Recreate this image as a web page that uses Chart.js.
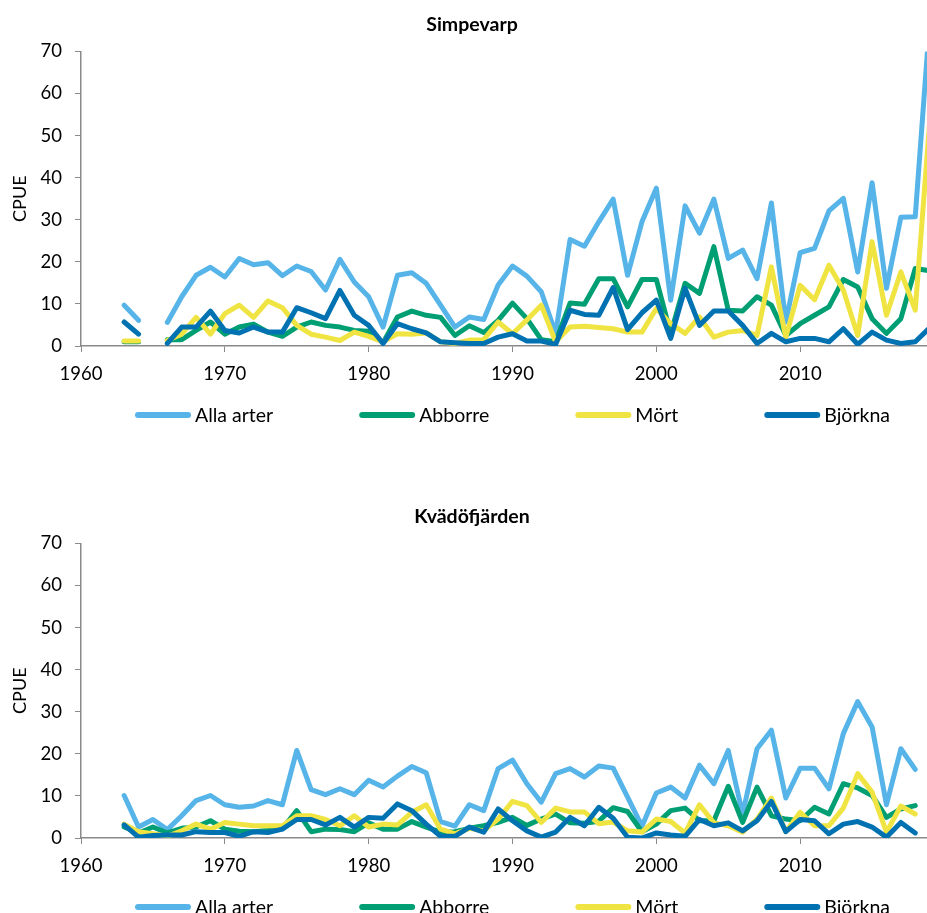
<!DOCTYPE html>
<html>
<head>
<meta charset="utf-8">
<script src="https://cdn.jsdelivr.net/npm/chart.js@4.4.1/dist/chart.umd.min.js"></script>
<style>
  html, body { margin: 0; padding: 0; background: #fff; overflow: hidden; width: 927px; height: 913px; }
  .panel { position: absolute; left: 0; width: 958px; height: 493px; }
</style>
</head>
<body>
<div class="panel" style="top:0"><canvas id="chartTop" width="958" height="493"></canvas></div>
<div class="panel" style="top:492px"><canvas id="chartBottom" width="958" height="493"></canvas></div>
<script>
// CPUE per year, Simpevarp and Kvädöfjärden

const years = [1963, 1964, 1965, 1966, 1967, 1968, 1969,
  1970, 1971, 1972, 1973, 1974, 1975, 1976, 1977, 1978, 1979,
  1980, 1981, 1982, 1983, 1984, 1985, 1986, 1987, 1988, 1989,
  1990, 1991, 1992, 1993, 1994, 1995, 1996, 1997, 1998, 1999,
  2000, 2001, 2002, 2003, 2004, 2005, 2006, 2007, 2008, 2009,
  2010, 2011, 2012, 2013, 2014, 2015, 2016, 2017, 2018, 2019];

const seriesNames = ['Alla arter', 'Abborre', 'Mört', 'Björkna'];
const seriesColors = ['#56B4E9', '#009E73', '#F0E442', '#0072B2'];
const xTickYears = [1960, 1970, 1980, 1990, 2000, 2010];
const yTicks = [0, 10, 20, 30, 40, 50, 60, 70];

// Simpevarp
const simAlla = [9.7, 6.1, null, 5.6, 11.7, 16.8, 18.7,
  16.4, 20.8, 19.3, 19.8, 16.7, 19.0, 17.7, 13.3, 20.6, 15.2,
  11.7, 4.5, 16.8, 17.4, 14.9, 9.7, 4.5, 6.9, 6.3, 14.5,
  19.0, 16.6, 12.9, 3.0, 25.3, 23.7, 29.5, 34.9, 16.8, 29.5,
  37.5, 10.9, 33.3, 26.8, 34.9, 20.8, 22.8, 16.0, 34.0, 5.7,
  22.2, 23.2, 32.1, 35.1, 17.6, 38.8, 13.7, 30.6, 30.7, 77];
const simAbborre = [1.0, 1.0, null, 1.5, 1.5, 3.7, 5.7,
  2.8, 4.5, 5.2, 3.3, 2.3, 4.5, 5.7, 4.9, 4.5, 3.7,
  3.5, 0.8, 6.9, 8.3, 7.3, 6.8, 2.5, 4.8, 3.2, 6.1,
  10.2, 6.5, 1.5, 1.0, 10.2, 9.9, 16.0, 16.0, 9.3, 15.8,
  15.8, 3.0, 14.9, 12.5, 23.6, 8.5, 8.3, 11.7, 9.7, 2.5,
  5.3, 7.3, 9.3, 15.8, 14.0, 6.5, 3.0, 6.5, 18.4, 17.9];
const simMort = [1.2, 1.2, null, 1.3, 2.8, 6.8, 2.8,
  7.7, 9.7, 6.8, 10.7, 9.1, 4.9, 2.8, 2.1, 1.3, 3.3,
  2.3, 1.0, 2.9, 2.8, 3.1, 1.0, 0.6, 1.4, 1.5, 5.7,
  2.9, 6.2, 9.7, 1.0, 4.5, 4.7, 4.4, 4.1, 3.3, 3.3,
  8.9, 5.3, 3.0, 6.9, 2.1, 3.3, 3.7, 2.5, 18.8, 2.1,
  14.4, 11.0, 19.2, 13.3, 2.5, 24.8, 7.3, 17.6, 8.5, 53];
const simBjorkna = [5.7, 2.8, null, 0.6, 4.5, 4.5, 8.3,
  3.7, 3.1, 4.5, 3.3, 3.3, 9.1, 7.9, 6.5, 13.2, 7.3,
  4.9, 0.6, 5.3, 4.1, 3.1, 1.0, 0.8, 0.6, 0.6, 2.1,
  2.9, 1.2, 1.2, 0.4, 8.5, 7.5, 7.3, 13.9, 3.9, 7.9,
  10.9, 1.8, 13.7, 4.9, 8.3, 8.3, 4.9, 0.6, 3.0, 1.0,
  1.8, 1.8, 1.0, 4.1, 0.4, 3.3, 1.4, 0.6, 1.0, 4.3];

// Kvädöfjärden
const kvaAlla = [10.1, 2.6, 4.4, 2.0, 5.3, 8.9, 10.1,
  7.9, 7.3, 7.6, 8.9, 7.9, 20.8, 11.5, 10.3, 11.7, 10.3,
  13.7, 12.1, 14.7, 17.0, 15.5, 3.9, 2.8, 7.9, 6.5, 16.5,
  18.5, 12.9, 8.5, 15.3, 16.5, 14.5, 17.1, 16.6, 9.7, 2.8,
  10.7, 12.1, 9.5, 17.3, 12.9, 20.8, 5.7, 21.2, 25.6, 9.5,
  16.6, 16.6, 11.7, 24.8, 32.4, 26.4, 7.9, 21.2, 16.3, null];
const kvaAbborre = [2.6, 1.2, 2.6, 1.2, 2.3, 2.6, 4.1,
  2.1, 1.6, 1.5, 1.8, 2.2, 6.5, 1.5, 2.1, 2.0, 1.5,
  3.6, 2.1, 2.1, 3.9, 2.6, 1.4, 1.5, 2.3, 2.9, 3.7,
  4.9, 3.0, 4.5, 5.7, 3.6, 3.5, 4.0, 7.2, 6.3, 1.5,
  3.3, 6.5, 7.1, 4.1, 4.1, 12.3, 3.7, 12.1, 5.3, 4.5,
  4.1, 7.3, 5.7, 12.9, 11.9, 10.1, 4.9, 6.9, 7.7, null];
const kvaMort = [3.3, 1.5, 1.0, 0.4, 1.7, 3.3, 2.1,
  3.7, 3.3, 2.9, 2.9, 2.9, 5.3, 5.3, 4.4, 2.9, 5.3,
  2.6, 3.3, 3.1, 6.1, 7.9, 2.1, 1.0, 2.3, 1.7, 4.5,
  8.7, 7.7, 3.7, 7.1, 6.2, 6.2, 3.4, 3.8, 1.7, 1.4,
  4.5, 3.9, 1.2, 7.9, 3.6, 2.9, 1.4, 4.5, 9.5, 1.5,
  6.1, 2.9, 2.9, 7.1, 15.3, 10.9, 1.4, 7.6, 5.7, null];
const kvaBjorkna = [3.1, 0.2, 0.6, 0.7, 0.7, 1.5, 1.3,
  1.3, 0.4, 1.5, 1.3, 2.1, 4.4, 4.4, 3.1, 4.9, 2.6,
  4.9, 4.7, 8.1, 6.5, 3.3, 0.4, 0.4, 2.6, 1.4, 6.9,
  4.1, 1.7, 0.2, 1.4, 4.9, 2.9, 7.3, 4.7, 0.2, 0.0,
  1.2, 0.7, 0.4, 4.4, 2.9, 3.6, 1.7, 4.1, 8.7, 1.5,
  4.4, 4.1, 1.0, 3.3, 3.9, 2.6, 0.2, 3.7, 1.2, null];

Chart.defaults.font.family = 'Lato, "Open Sans", sans-serif';
Chart.defaults.color = '#000';

// legend drawn as a thick rounded line with the name right after it
const lineLegend = {
  id: 'lineLegend',
  afterDraw(chart) {
    const ctx = chart.ctx;
    const area = chart.chartArea;
    const y = area.bottom + 69;
    const lineLen = 56, textGap = 4, itemGap = 86;
    ctx.save();
    ctx.font = '19.5px ' + Chart.defaults.font.family;
    const items = chart.data.datasets.map(ds => ({
      text: ds.label,
      color: ds.borderColor,
      w: lineLen + textGap + ctx.measureText(ds.label).width
    }));
    const total = items.reduce((s, it) => s + it.w, 0) + itemGap * (items.length - 1);
    let x = (area.left + area.right) / 2 - total / 2;
    items.forEach(it => {
      ctx.strokeStyle = it.color;
      ctx.lineWidth = 6;
      ctx.lineCap = 'round';
      ctx.beginPath();
      ctx.moveTo(x + 3, y);
      ctx.lineTo(x + lineLen - 3, y);
      ctx.stroke();
      ctx.fillStyle = '#000';
      ctx.textBaseline = 'middle';
      ctx.fillText(it.text, x + lineLen + textGap, y + 1);
      x += it.w + itemGap;
    });
    ctx.restore();
  }
};

function makeChart(canvasId, title, values) {
  const datasets = values.map((vals, i) => ({
    label: seriesNames[i],
    data: years.map((yr, j) => ({ x: yr, y: vals[j] })),
    borderColor: seriesColors[i],
    backgroundColor: seriesColors[i],
    borderWidth: 5,
    borderJoinStyle: 'round',
    borderCapStyle: 'round',
    pointRadius: 0,
    tension: 0,
    spanGaps: false,
    order: values.length - i
  }));

  return new Chart(document.getElementById(canvasId), {
    type: 'line',
    data: { datasets: datasets },
    plugins: [lineLegend],
    options: {
      responsive: false,
      animation: false,
      layout: { padding: { right: 14, bottom: 107 } },
      plugins: {
        legend: { display: false },
        tooltip: { enabled: false },
        title: {
          display: true,
          text: title,
          font: { size: 19.5, weight: 'bold' },
          color: '#000',
          padding: { top: 13, bottom: 15 }
        }
      },
      scales: {
        x: {
          type: 'linear',
          min: 1960,
          max: 2020,
          afterFit: (scale) => { scale.height = 40; },
          afterBuildTicks: (scale) => {
            scale.ticks = xTickYears.map(v => ({ value: v }));
          },
          ticks: {
            font: { size: 18.5 },
            color: '#000',
            padding: 11,
            maxRotation: 0,
            callback: (v) => String(v)
          },
          grid: { drawOnChartArea: false, drawTicks: true, tickLength: 6, color: '#8a8a8a' },
          border: { display: true, color: '#8a8a8a', width: 1.5 }
        },
        y: {
          min: 0,
          max: 70,
          afterFit: (scale) => { scale.width = 81; },
          afterBuildTicks: (scale) => {
            scale.ticks = yTicks.map(v => ({ value: v }));
          },
          title: {
            display: true,
            text: 'CPUE',
            font: { size: 18 },
            color: '#000',
            padding: { top: 9, bottom: 0 }
          },
          ticks: {
            font: { size: 18.5 },
            color: '#000',
            padding: 13
          },
          grid: { drawOnChartArea: false, drawTicks: true, tickLength: 6, color: '#8a8a8a' },
          border: { display: true, color: '#8a8a8a', width: 1.5 }
        }
      }
    }
  });
}

makeChart('chartTop', 'Simpevarp', [simAlla, simAbborre, simMort, simBjorkna]);
makeChart('chartBottom', 'Kvädöfjärden', [kvaAlla, kvaAbborre, kvaMort, kvaBjorkna]);
</script>
</body>
</html>
